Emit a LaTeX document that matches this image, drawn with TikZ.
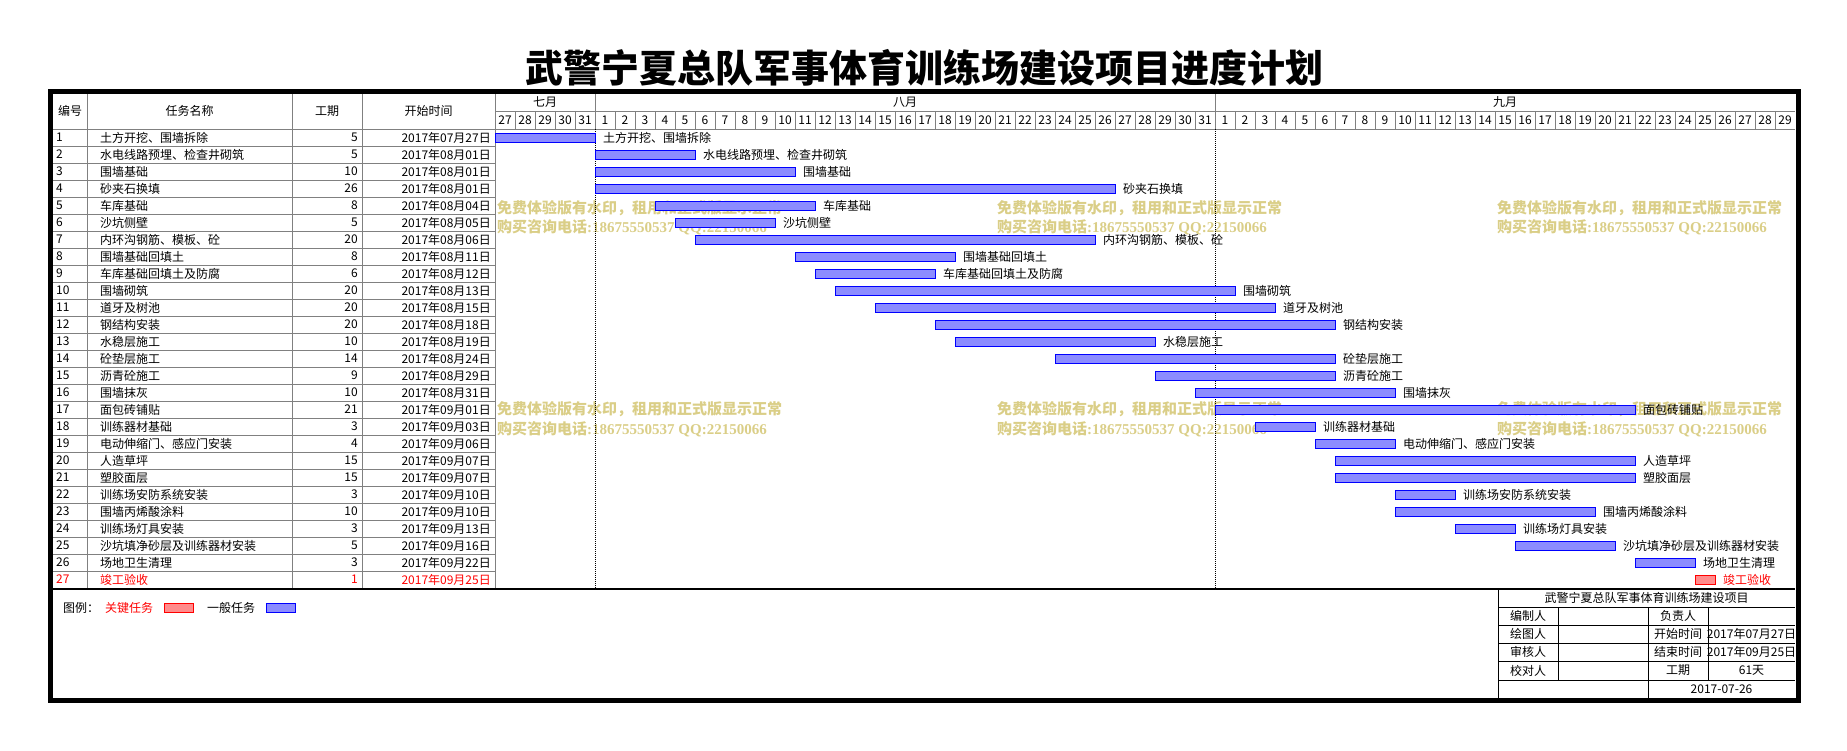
\documentclass[tikz,border=0pt]{standalone}
\usepackage{fontspec}
\setmainfont{Noto Sans CJK SC}
\newfontfamily\latinwm{Liberation Serif}
\definecolor{wmgold}{RGB}{218,206,135}
\definecolor{gbar}{RGB}{140,140,255}
\definecolor{rbar}{RGB}{255,140,140}
\definecolor{gridgray}{RGB}{128,128,128}
\newcommand{\wmone}{免费体验版有水印，租用和正式版显示正常}
\newcommand{\wmtwo}{购买咨询电话{\latinwm\bfseries :18675550537 QQ:22150066}}
\begin{document}
\begin{tikzpicture}[x=1pt,y=-1pt]
\tikzstyle{every node}=[inner sep=0pt, font=\fontsize{12}{14}\selectfont]
\tikzstyle{gline}=[draw=gridgray, line width=1pt]
\tikzstyle{bline}=[draw=black, line width=1pt]
\tikzstyle{bar}=[draw=blue, fill=gbar, line width=1pt]
\tikzstyle{critbar}=[draw=red, fill=rbar, line width=1pt]
\tikzstyle{wm}=[anchor=west, text=wmgold, font=\fontsize{15}{17}\selectfont\bfseries]
\useasboundingbox (0,0) rectangle (1847,750);
% title
\draw (924,68) node (title) [font=\fontsize{38}{40}\selectfont\bfseries] {武警宁夏总队军事体育训练场建设项目进度计划};
% watermark
\draw (497,208) node (w1a) [wm] {\wmone};
\draw (497,227) node (w1b) [wm] {\wmtwo};
\draw (997,208) node (w2a) [wm] {\wmone};
\draw (997,227) node (w2b) [wm] {\wmtwo};
\draw (1497,208) node (w3a) [wm] {\wmone};
\draw (1497,227) node (w3b) [wm] {\wmtwo};
\draw (497,409) node (w4a) [wm] {\wmone};
\draw (497,429) node (w4b) [wm] {\wmtwo};
\draw (997,409) node (w5a) [wm] {\wmone};
\draw (997,429) node (w5b) [wm] {\wmtwo};
\draw (1497,409) node (w6a) [wm] {\wmone};
\draw (1497,429) node (w6b) [wm] {\wmtwo};
% table grid
\foreach \n in {1,...,26}
  \draw[gline] (53,{129+17*\n}) -- (495,{129+17*\n});
\draw[gline] (53,129) -- (1795,129);
\draw[gline] (495,111) -- (1795,111);
\foreach \x in {87,292,362,495}
  \draw[gline] (\x,94) -- (\x,588);
\foreach \i in {1,...,64}
  \draw[gline] ({495+20*\i},111) -- ({495+20*\i},129);
\draw[gline] (595,94) -- (595,111);
\draw[gline] (1215,94) -- (1215,111);
\draw[densely dotted, line width=1pt] (595,129) -- (595,588);
\draw[densely dotted, line width=1pt] (1215,129) -- (1215,588);
% header
\draw (70,111) node (h1) {编号};
\draw (189.5,111) node (h2) {任务名称};
\draw (327,111) node (h3) {工期};
\draw (428.5,111) node (h4) {开始时间};
\draw (545,102.5) node (m7) {七月};
\draw (905,102.5) node (m8) {八月};
\draw (1505,102.5) node (m9) {九月};
\foreach \d in {27,...,31}
  \draw ({495+20*(\d-27)+10},120) node (j\d) {\d};
\foreach \d in {1,...,31}
  \draw ({595+20*(\d-1)+10},120) node (a\d) {\d};
\foreach \d in {1,...,29}
  \draw ({1215+20*(\d-1)+10},120) node (s\d) {\d};
% tasks
\foreach \n/\task/\dur/\st/\date in {
  1/土方开挖、围墙拆除/5/0/07月27,
  2/水电线路预埋、检查井砌筑/5/5/08月01,
  3/围墙基础/10/5/08月01,
  4/砂夹石换填/26/5/08月01,
  5/车库基础/8/8/08月04,
  6/沙坑侧壁/5/9/08月05,
  7/内环沟钢筋、模板、砼/20/10/08月06,
  8/围墙基础回填土/8/15/08月11,
  9/车库基础回填土及防腐/6/16/08月12,
  10/围墙砌筑/20/17/08月13,
  11/道牙及树池/20/19/08月15,
  12/钢结构安装/20/22/08月18,
  13/水稳层施工/10/23/08月19,
  14/砼垫层施工/14/28/08月24,
  15/沥青砼施工/9/33/08月29,
  16/围墙抹灰/10/35/08月31,
  17/面包砖铺贴/21/36/09月01,
  18/训练器材基础/3/38/09月03,
  19/电动伸缩门、感应门安装/4/41/09月06,
  20/人造草坪/15/42/09月07,
  21/塑胶面层/15/42/09月07,
  22/训练场安防系统安装/3/45/09月10,
  23/围墙丙烯酸涂料/10/45/09月10,
  24/训练场灯具安装/3/48/09月13,
  25/沙坑填净砂层及训练器材安装/5/51/09月16,
  26/场地卫生清理/3/57/09月22}{
  \pgfmathsetmacro\yc{129+17*\n-8.5}
  \draw (56,\yc) node (n\n) [anchor=west] {\n};
  \draw (100,\yc) node (t\n) [anchor=west] {\task};
  \draw (358,\yc) node (d\n) [anchor=east] {\dur};
  \draw (491,\yc) node (s\n) [anchor=east] {2017年\date 日};
  \draw[bar] ({495+20*\st},\yc-4.5) rectangle ({495+20*(\st+\dur)},\yc+4.5);
  \draw ({495+20*(\st+\dur)+8},\yc) node (l\n) [anchor=west] {\task};
}
% critical task
\draw (56,579.5) node (n27) [anchor=west, text=red] {27};
\draw (100,579.5) node (t27) [anchor=west, text=red] {竣工验收};
\draw (358,579.5) node (d27) [anchor=east, text=red] {1};
\draw (491,579.5) node (s27) [anchor=east, text=red] {2017年09月25日};
\draw[critbar] (1695,575) rectangle (1715,584);
\draw (1723,579.5) node (l27) [anchor=west, text=red] {竣工验收};
\draw[line width=2pt] (53,589) -- (1795,589);
% legend
\draw (63,608) node (lg) [anchor=west] {图例：};
\draw (105,608) node (lgk) [anchor=west, text=red] {关键任务};
\draw[critbar] (164,603) rectangle (193,612);
\draw (207,608) node (lgn) [anchor=west] {一般任务};
\draw[bar] (266,603) rectangle (295,612);
% info table
\draw[bline] (1498,589) -- (1498,699);
\foreach \y in {607,625,643,661,680}
  \draw[bline] (1498,\y) -- (1795,\y);
\draw[bline] (1558,607) -- (1558,680);
\draw[bline] (1708,607) -- (1708,680);
\draw[bline] (1648,607) -- (1648,699);
\draw (1646.5,598) node (it) {武警宁夏总队军事体育训练场建设项目};
\draw (1528,616) node (i1) {编制人};
\draw (1678,616) node (i2) {负责人};
\draw (1528,634) node (i3) {绘图人};
\draw (1678,634) node (i4) {开始时间};
\draw (1751.5,634) node (i5) {2017年07月27日};
\draw (1528,652) node (i6) {审核人};
\draw (1678,652) node (i7) {结束时间};
\draw (1751.5,652) node (i8) {2017年09月25日};
\draw (1528,670.5) node (i9) {校对人};
\draw (1678,670.5) node (i10) {工期};
\draw (1751.5,670.5) node (i11) {61天};
\draw (1721.5,689) node (i12) {2017-07-26};
% border
\draw[line width=5pt] (50.5,91.5) rectangle (1798,700.5);
\end{tikzpicture}
\end{document}
